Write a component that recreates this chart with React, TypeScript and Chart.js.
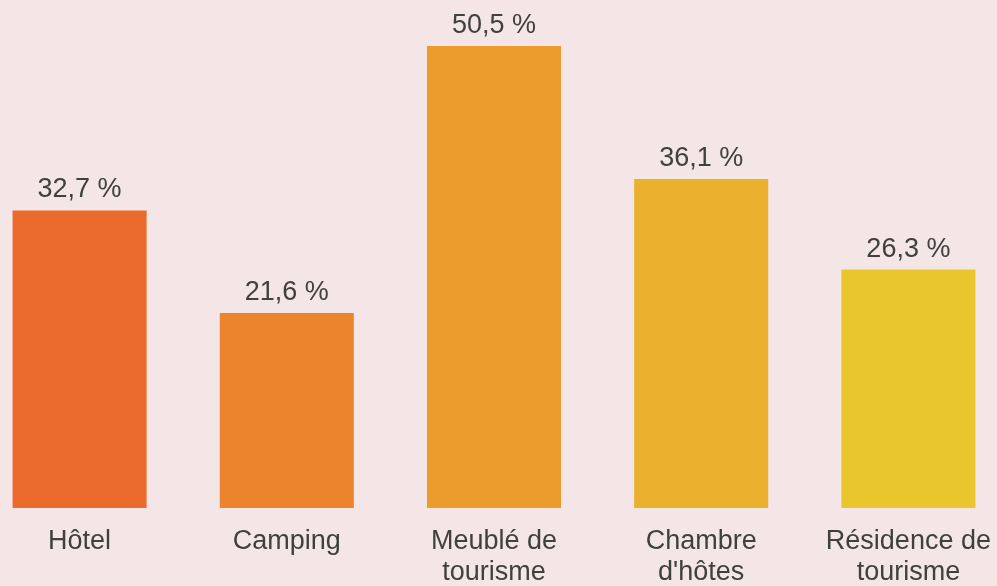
import React, { useEffect, useRef } from "react";
import { Chart, registerables } from "chart.js";

Chart.register(...registerables);

const categories: string[][] = [
  ["Hôtel"],
  ["Camping"],
  ["Meublé de", "tourisme"],
  ["Chambre", "d'hôtes"],
  ["Résidence de", "tourisme"],
];
const values: number[] = [32.7, 21.6, 50.5, 36.1, 26.3];
const valueLabels: string[] = ["32,7 %", "21,6 %", "50,5 %", "36,1 %", "26,3 %"];
const colors: string[] = ["#EB6B2C", "#EB842D", "#EC9C2D", "#EBB12E", "#EAC62E"];

const BG = "#F4E6E7";
const TEXT = "#404040";
const FONT = "'Liberation Sans', Arial, sans-serif";

const valueLabelPlugin = {
  id: "valueLabels",
  afterDatasetsDraw(chart: any) {
    const ctx = chart.ctx;
    const meta = chart.getDatasetMeta(0);
    ctx.save();
    ctx.fillStyle = TEXT;
    ctx.font = `27px ${FONT}`;
    ctx.textAlign = "center";
    ctx.textBaseline = "alphabetic";
    meta.data.forEach((bar: any, i: number) => {
      ctx.fillText(valueLabels[i], bar.x, bar.y - 13);
    });
    ctx.restore();
  },
};

export default function App() {
  const ref = useRef<HTMLCanvasElement>(null);
  useEffect(() => {
    document.documentElement.style.background = BG;
    document.body.style.margin = "0";
    document.body.style.overflow = "hidden";
    document.body.style.background = BG;
    const chart = new Chart(ref.current!, {
      type: "bar",
      data: {
        labels: categories,
        datasets: [
          {
            data: values,
            backgroundColor: colors,
            borderWidth: 0,
            barPercentage: 0.647,
            categoryPercentage: 1,
          },
        ],
      },
      options: {
        animation: false,
        responsive: false,
        maintainAspectRatio: false,
        layout: { padding: 0 },
        plugins: { legend: { display: false }, tooltip: { enabled: false } },
        scales: {
          y: {
            display: false,
            min: 0.5,
            max: 55.48,
          },
          x: {
            grid: { display: false, drawTicks: false },
            border: { display: false },
            ticks: {
              color: TEXT,
              font: { size: 27, family: FONT, lineHeight: 1.15 },
              padding: 18,
              maxRotation: 0,
              autoSkip: false,
            },
            afterFit(scale: any) {
              scale.height = 78;
            },
          },
        },
      },
      plugins: [valueLabelPlugin],
    });
    return () => chart.destroy();
  }, []);
  return (
    <div style={{ position: "absolute", left: -24, top: 0, width: 1036, height: 586, background: BG }}>
      <canvas ref={ref} width={1036} height={586} style={{ display: "block" }} />
    </div>
  );
}
